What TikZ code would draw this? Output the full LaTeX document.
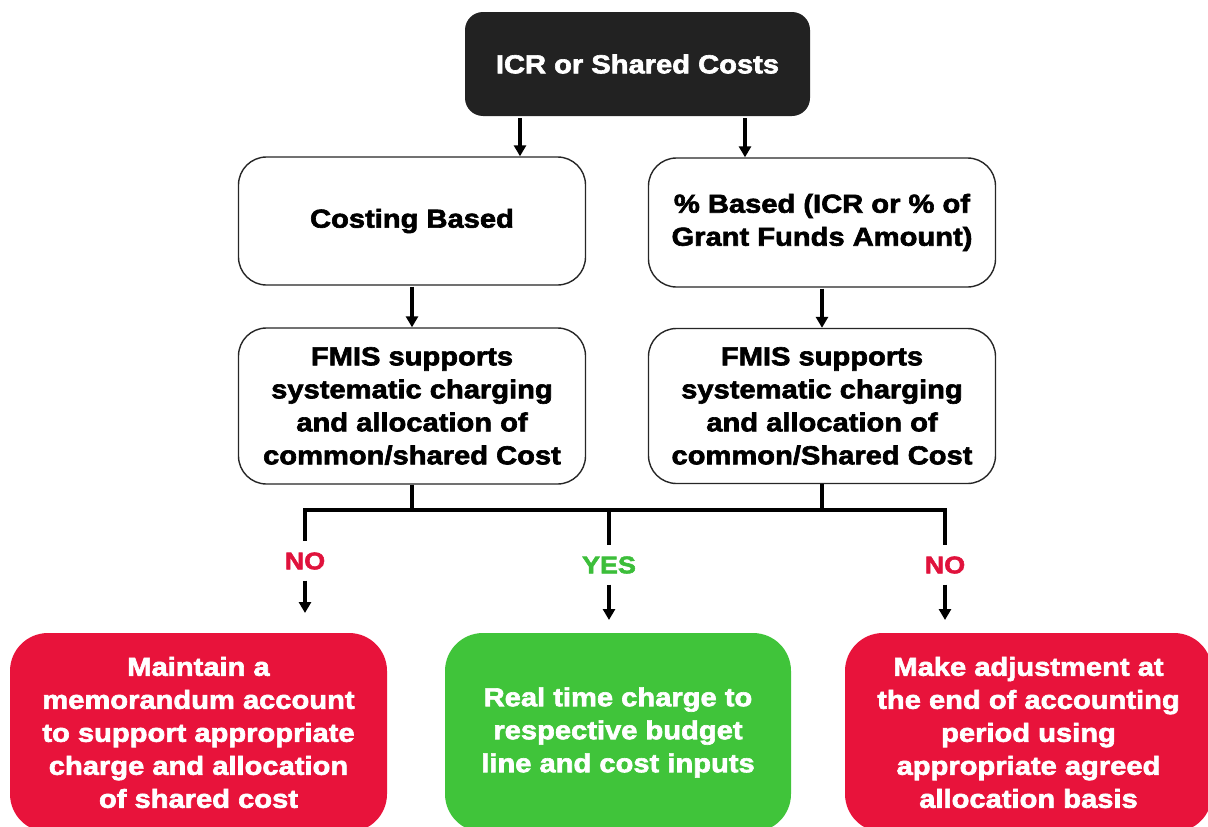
\documentclass[tikz,border=0pt]{standalone}
\usepackage{fontspec}
\newfontfamily\bfont{Liberation Sans}[FakeStretch=1.12, FakeBold=2.4]
\usetikzlibrary{arrows.meta}
\definecolor{boxdark}{HTML}{222222}
\definecolor{boxred}{HTML}{E8133B}
\definecolor{boxgreen}{HTML}{40C43A}
\definecolor{labred}{HTML}{E0123C}
\definecolor{labgreen}{HTML}{3CBE3A}
\tikzset{
  txt/.style={font=\bfont\bfseries\fontsize{26}{33}\selectfont, align=center, inner sep=0pt},
  topbox/.style={txt, fill=boxdark, text=white, rounded corners=18pt, minimum width=345pt, minimum height=104pt},
  whitebox/.style={txt, draw=black!85, line width=1.4pt, fill=white, text=black, rounded corners=28pt, minimum width=347pt},
  redbox/.style={txt, fill=boxred, text=white, rounded corners=38pt, minimum height=199pt},
  greenbox/.style={txt, fill=boxgreen, text=white, rounded corners=38pt, minimum height=199pt},
  lab/.style={font=\bfont\bfseries\fontsize{24}{26}\selectfont, inner sep=11pt},
  conn/.style={line width=3.2pt, black},
  arr/.style={conn, -{Triangle[width=12pt,length=11pt]}}
}
\begin{document}
\begin{tikzpicture}[x=1pt,y=-1pt]
\useasboundingbox (0,0) rectangle (1208,827);
% top
\node[topbox] (top) at (637.5,64) {ICR or Shared Costs};
% second row
\node[whitebox, minimum height=128pt] (cost) at (412,221) {Costing Based};
\node[whitebox, minimum height=129pt] (pct) at (822,222.5) {\% Based (ICR or \% of\\Grant Funds Amount)};
% third row
\node[whitebox, minimum height=156pt] (fmisL) at (412,406) {FMIS supports\\systematic charging\\and allocation of\\common/shared Cost};
\node[whitebox, minimum height=155pt] (fmisR) at (822,406) {FMIS supports\\systematic charging\\and allocation of\\common/Shared Cost};
% bottom
\node[redbox, minimum width=377pt] (memo) at (198.5,732.5) {Maintain a\\memorandum account\\to support appropriate\\charge and allocation\\of shared cost};
\node[greenbox, minimum width=346pt] (real) at (618,732.5) {Real time charge to\\respective budget\\line and cost inputs};
\node[redbox, minimum width=367pt] (adj) at (1028.5,732.5) {Make adjustment at\\the end of accounting\\period using\\appropriate agreed\\allocation basis};
% labels
\node[lab, text=labred] (no1) at (305,561) {NO};
\node[lab, text=labgreen] (yes) at (609,565) {YES};
\node[lab, text=labred] (no2) at (945,565) {NO};
% junction coordinates
\coordinate (jL) at (fmisL.south |- 0,510);
\coordinate (jR) at (fmisR.south |- 0,510);
\coordinate (b1) at (no1.north |- 0,510);
\coordinate (b2) at (yes.north |- 0,510);
\coordinate (b3) at (no2.north |- 0,510);
\coordinate (e1) at (no1.south |- 0,613);
\coordinate (e2) at (yes.south |- 0,620);
\coordinate (e3) at (no2.south |- 0,620);
% connectors
\draw[arr] ([xshift=-117.5pt,yshift=-2pt]top.south) -- ([xshift=-117.5pt]top.south |- cost.north);
\draw[arr] ([xshift=107.5pt,yshift=-2pt]top.south) -- ([xshift=107.5pt]top.south |- pct.north);
\draw[arr] ([yshift=-1pt]cost.south) -- (fmisL.north);
\draw[arr] ([yshift=-1pt]pct.south) -- (fmisR.north);
\draw[conn] (fmisL.south) -- (jL);
\draw[conn] (fmisR.south) -- (jR);
\draw[conn, line cap=rect] (b1) -- (b3);
\draw[conn] (b1) -- (no1.north);
\draw[conn] (b2) -- (yes.north);
\draw[conn] (b3) -- (no2.north);
\draw[arr] (no1.south) -- (e1);
\draw[arr] (yes.south) -- (e2);
\draw[arr] (no2.south) -- (e3);
\end{tikzpicture}
\end{document}
